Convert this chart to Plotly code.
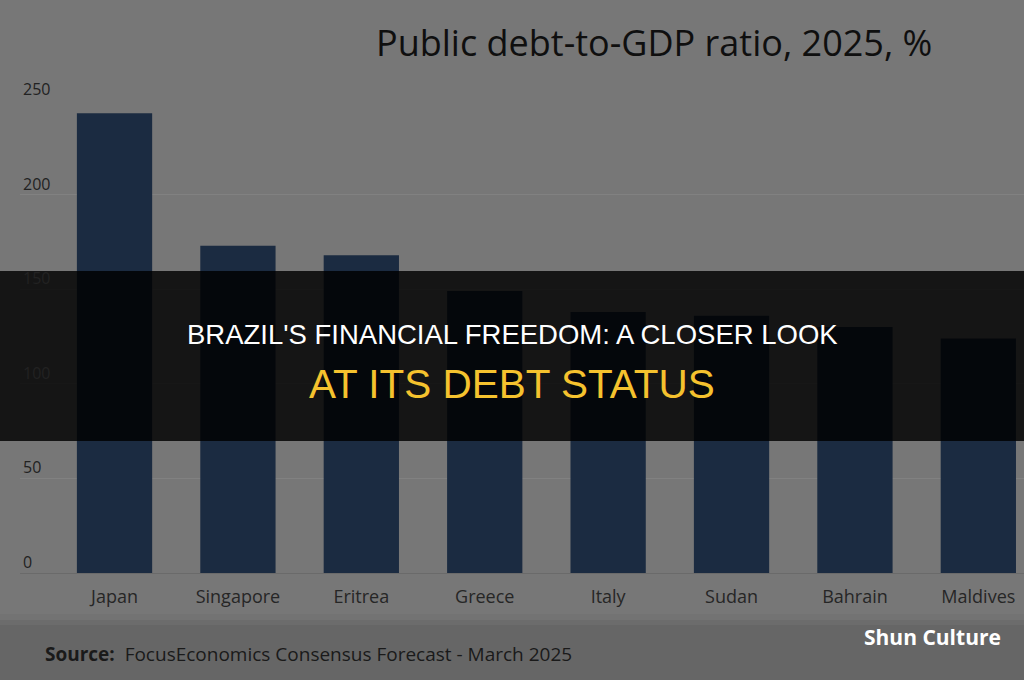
import plotly.graph_objects as go

countries = ["Japan", "Singapore", "Eritrea", "Greece", "Italy", "Sudan", "Bahrain", "Maldives"]
debt_ratio = [243, 173, 168, 149, 138, 136, 130, 124]
y_ticks = [0, 50, 100, 150, 200, 250]

chart_title = "Public debt-to-GDP ratio, 2025, %"
source_text = "<b>Source:</b>  FocusEconomics Consensus Forecast - March 2025"
banner_line1 = "BRAZIL'S FINANCIAL FREEDOM: A CLOSER LOOK"
banner_line2 = "AT ITS DEBT STATUS"
watermark = "Shun Culture"

BG = "#777777"
BAR = "#1b2b41"

fig = go.Figure()
fig.add_trace(go.Bar(x=countries, y=debt_ratio, marker=dict(color=BAR, line=dict(width=0)),
                     hoverinfo="skip"))

W, H = 1024, 680
ml, mr, mt, mb = 20, 0, 100, 107
plot_h = H - mt - mb
plot_w = W - ml - mr

def py(pix):
    return (H - mb - pix) / plot_h

def px(pix):
    return (pix - ml) / plot_w

shapes = [
    # footer band
    dict(type="rect", xref="paper", yref="paper", x0=px(0), x1=px(W), y0=py(614), y1=py(620),
         fillcolor="#737373", line=dict(width=0), layer="below"),
    dict(type="rect", xref="paper", yref="paper", x0=px(0), x1=px(W), y0=py(620), y1=py(625),
         fillcolor="#6c6c6c", line=dict(width=0), layer="below"),
    dict(type="rect", xref="paper", yref="paper", x0=px(0), x1=px(W), y0=py(625), y1=py(H + 2),
         fillcolor="#666666", line=dict(width=0), layer="below"),
    # dark banner
    dict(type="rect", xref="paper", yref="paper", x0=px(0), x1=px(W), y0=py(271), y1=py(441),
         fillcolor="rgba(0,0,0,0.82)", line=dict(width=0), layer="above"),
]

annotations = []
for v in y_ticks:
    annotations.append(dict(x=0, xref="paper", y=v, yref="y", text=str(v), showarrow=False,
                            xanchor="left", yanchor="middle", xshift=1, yshift=11,
                            font=dict(family="Open Sans", size=16, color="#222222")))

annotations += [
    dict(x=px(654), xref="paper", y=py(43), yref="paper", text=chart_title, showarrow=False,
         xanchor="center", yanchor="middle",
         font=dict(family="Open Sans", size=36, color="#0f0f0f")),
    dict(x=px(43), xref="paper", y=py(654), yref="paper", text=source_text, showarrow=False,
         xanchor="left", yanchor="middle",
         font=dict(family="Open Sans", size=19, color="#1a1a1a")),
    dict(x=px(1003), xref="paper", y=py(637), yref="paper", text="<b>" + watermark + "</b>",
         showarrow=False, xanchor="right", yanchor="middle",
         font=dict(family="Open Sans", size=21, color="#ffffff")),
    dict(x=px(512), xref="paper", y=py(334), yref="paper", text=banner_line1, showarrow=False,
         xanchor="center", yanchor="middle",
         font=dict(family="Liberation Sans", size=27.5, color="#ffffff")),
    dict(x=px(512), xref="paper", y=py(384), yref="paper", text=banner_line2, showarrow=False,
         xanchor="center", yanchor="middle",
         font=dict(family="Liberation Sans", size=40.5, color="#f5c22e")),
]

fig.update_layout(
    width=W, height=H,
    margin=dict(l=ml, r=mr, t=mt, b=mb, pad=0),
    paper_bgcolor=BG, plot_bgcolor=BG,
    bargap=0.39,
    showlegend=False,
    shapes=shapes,
    annotations=annotations,
    xaxis=dict(range=[-0.766, 7.37], showgrid=False, showline=True, linecolor="#6a6a6a",
               linewidth=1, ticks="", ticklabelstandoff=7, fixedrange=True,
               tickfont=dict(family="Open Sans", size=18, color="#262626")),
    yaxis=dict(range=[0, 250], tickvals=y_ticks, showticklabels=False, showgrid=True,
               gridcolor="#818181", gridwidth=1, zeroline=False, fixedrange=True),
)

fig.write_html("out.html", config={"displayModeBar": False})
